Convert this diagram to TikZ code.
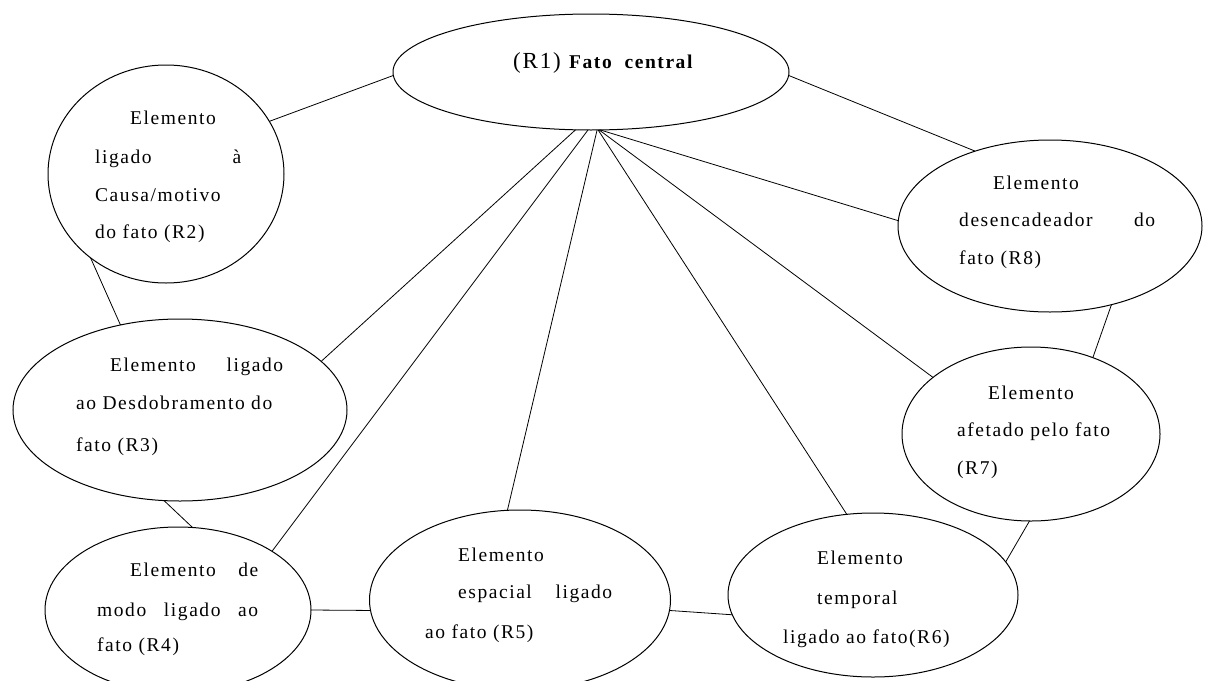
\documentclass[tikz,border=0pt]{standalone}
\usepackage{fontspec}
\setmainfont{Liberation Serif}[LetterSpace=8]
\usetikzlibrary{shapes.geometric}

\tikzset{
  bubble/.style={draw=black, line width=1pt, ellipse, inner sep=0pt, outer sep=0pt},
  link/.style={draw=black, line width=0.8pt},
  lbl/.style={anchor=base west, inner sep=0pt, font=\fontsize{19.5}{22}\selectfont}
}

\begin{document}
\begin{tikzpicture}[x=1pt, y=-1pt]
\useasboundingbox[fill=white] (0,0) rectangle (1206,680);

% the eight bubbles
\node[bubble, minimum width=396pt, minimum height=116pt] (r1) at (591,72) {};
\node[bubble, minimum width=236pt, minimum height=218pt] (r2) at (166,174) {};
\node[bubble, minimum width=334pt, minimum height=182pt] (r3) at (180,410) {};
\node[bubble, minimum width=266pt, minimum height=166pt] (r4) at (178,610) {};
\node[bubble, minimum width=301pt, minimum height=180pt] (r5) at (520,600) {};
\node[bubble, minimum width=290pt, minimum height=164pt] (r6) at (873,595) {};
\node[bubble, minimum width=258pt, minimum height=174pt] (r7) at (1031,434) {};
\node[bubble, minimum width=304pt, minimum height=172pt] (r8) at (1050,226) {};

% links from the central fact
\draw[link] (r1.181) -- (r2.27);
\draw[link] (r1.-1) -- (r8.135);
\draw[link] (r1.255) -- (r3.19);
\draw[link] (r1.267) -- (r4.32);
\draw[link] (r1.276) -- (r5.98);
\draw[link] (r1.277) -- (r6.108);
\draw[link] (r1.278) -- (r7.150);
\draw[link] (r1.279) -- (r8.178);

% links around the ring
\draw[link] (r2.228) -- (r3.125);
\draw[link] (r3.260) -- (r4.80);
\draw[link] (r4.0) -- (r5.184);
\draw[link] (r5.356) -- (r6.188);
\draw[link] (r6.14) -- (r7.269);
\draw[link] (r7.51) -- (r8.308);

% texts
\node[lbl] (t1) at (513,68) {{\fontsize{23}{24}\selectfont (R1)}\ \textbf{Fato\ \ central}};

\node[lbl] (t2a) at (130,124) {Elemento};
\node[lbl] (t2b) at (95,163) {\makebox[146pt][s]{ligado à}};
\node[lbl] (t2c) at (95,201) {Causa/motivo};
\node[lbl] (t2d) at (95,238) {do fato (R2)};

\node[lbl] (t3a) at (110,371) {\makebox[173pt][s]{Elemento ligado}};
\node[lbl] (t3b) at (76,409) {ao Desdobramento do};
\node[lbl] (t3c) at (76,451) {fato (R3)};

\node[lbl] (t4a) at (130,576) {\makebox[128pt][s]{Elemento de}};
\node[lbl] (t4b) at (97,616) {\makebox[161pt][s]{modo ligado ao}};
\node[lbl] (t4c) at (97,651) {fato (R4)};

\node[lbl] (t5a) at (458,561) {Elemento};
\node[lbl] (t5b) at (458,598) {\makebox[154pt][s]{espacial ligado}};
\node[lbl] (t5c) at (425,638) {ao fato (R5)};

\node[lbl] (t6a) at (817,564) {Elemento};
\node[lbl] (t6b) at (817,604) {temporal};
\node[lbl] (t6c) at (783,643) {ligado\ ao fato(R6)};

\node[lbl] (t7a) at (988,399) {Elemento};
\node[lbl] (t7b) at (957,436) {afetado pelo fato};
\node[lbl] (t7c) at (957,474) {(R7)};

\node[lbl] (t8a) at (993,189) {Elemento};
\node[lbl] (t8b) at (959,226) {\makebox[196pt][s]{desencadeador do}};
\node[lbl] (t8c) at (959,264) {fato (R8)};
\end{tikzpicture}
\end{document}
